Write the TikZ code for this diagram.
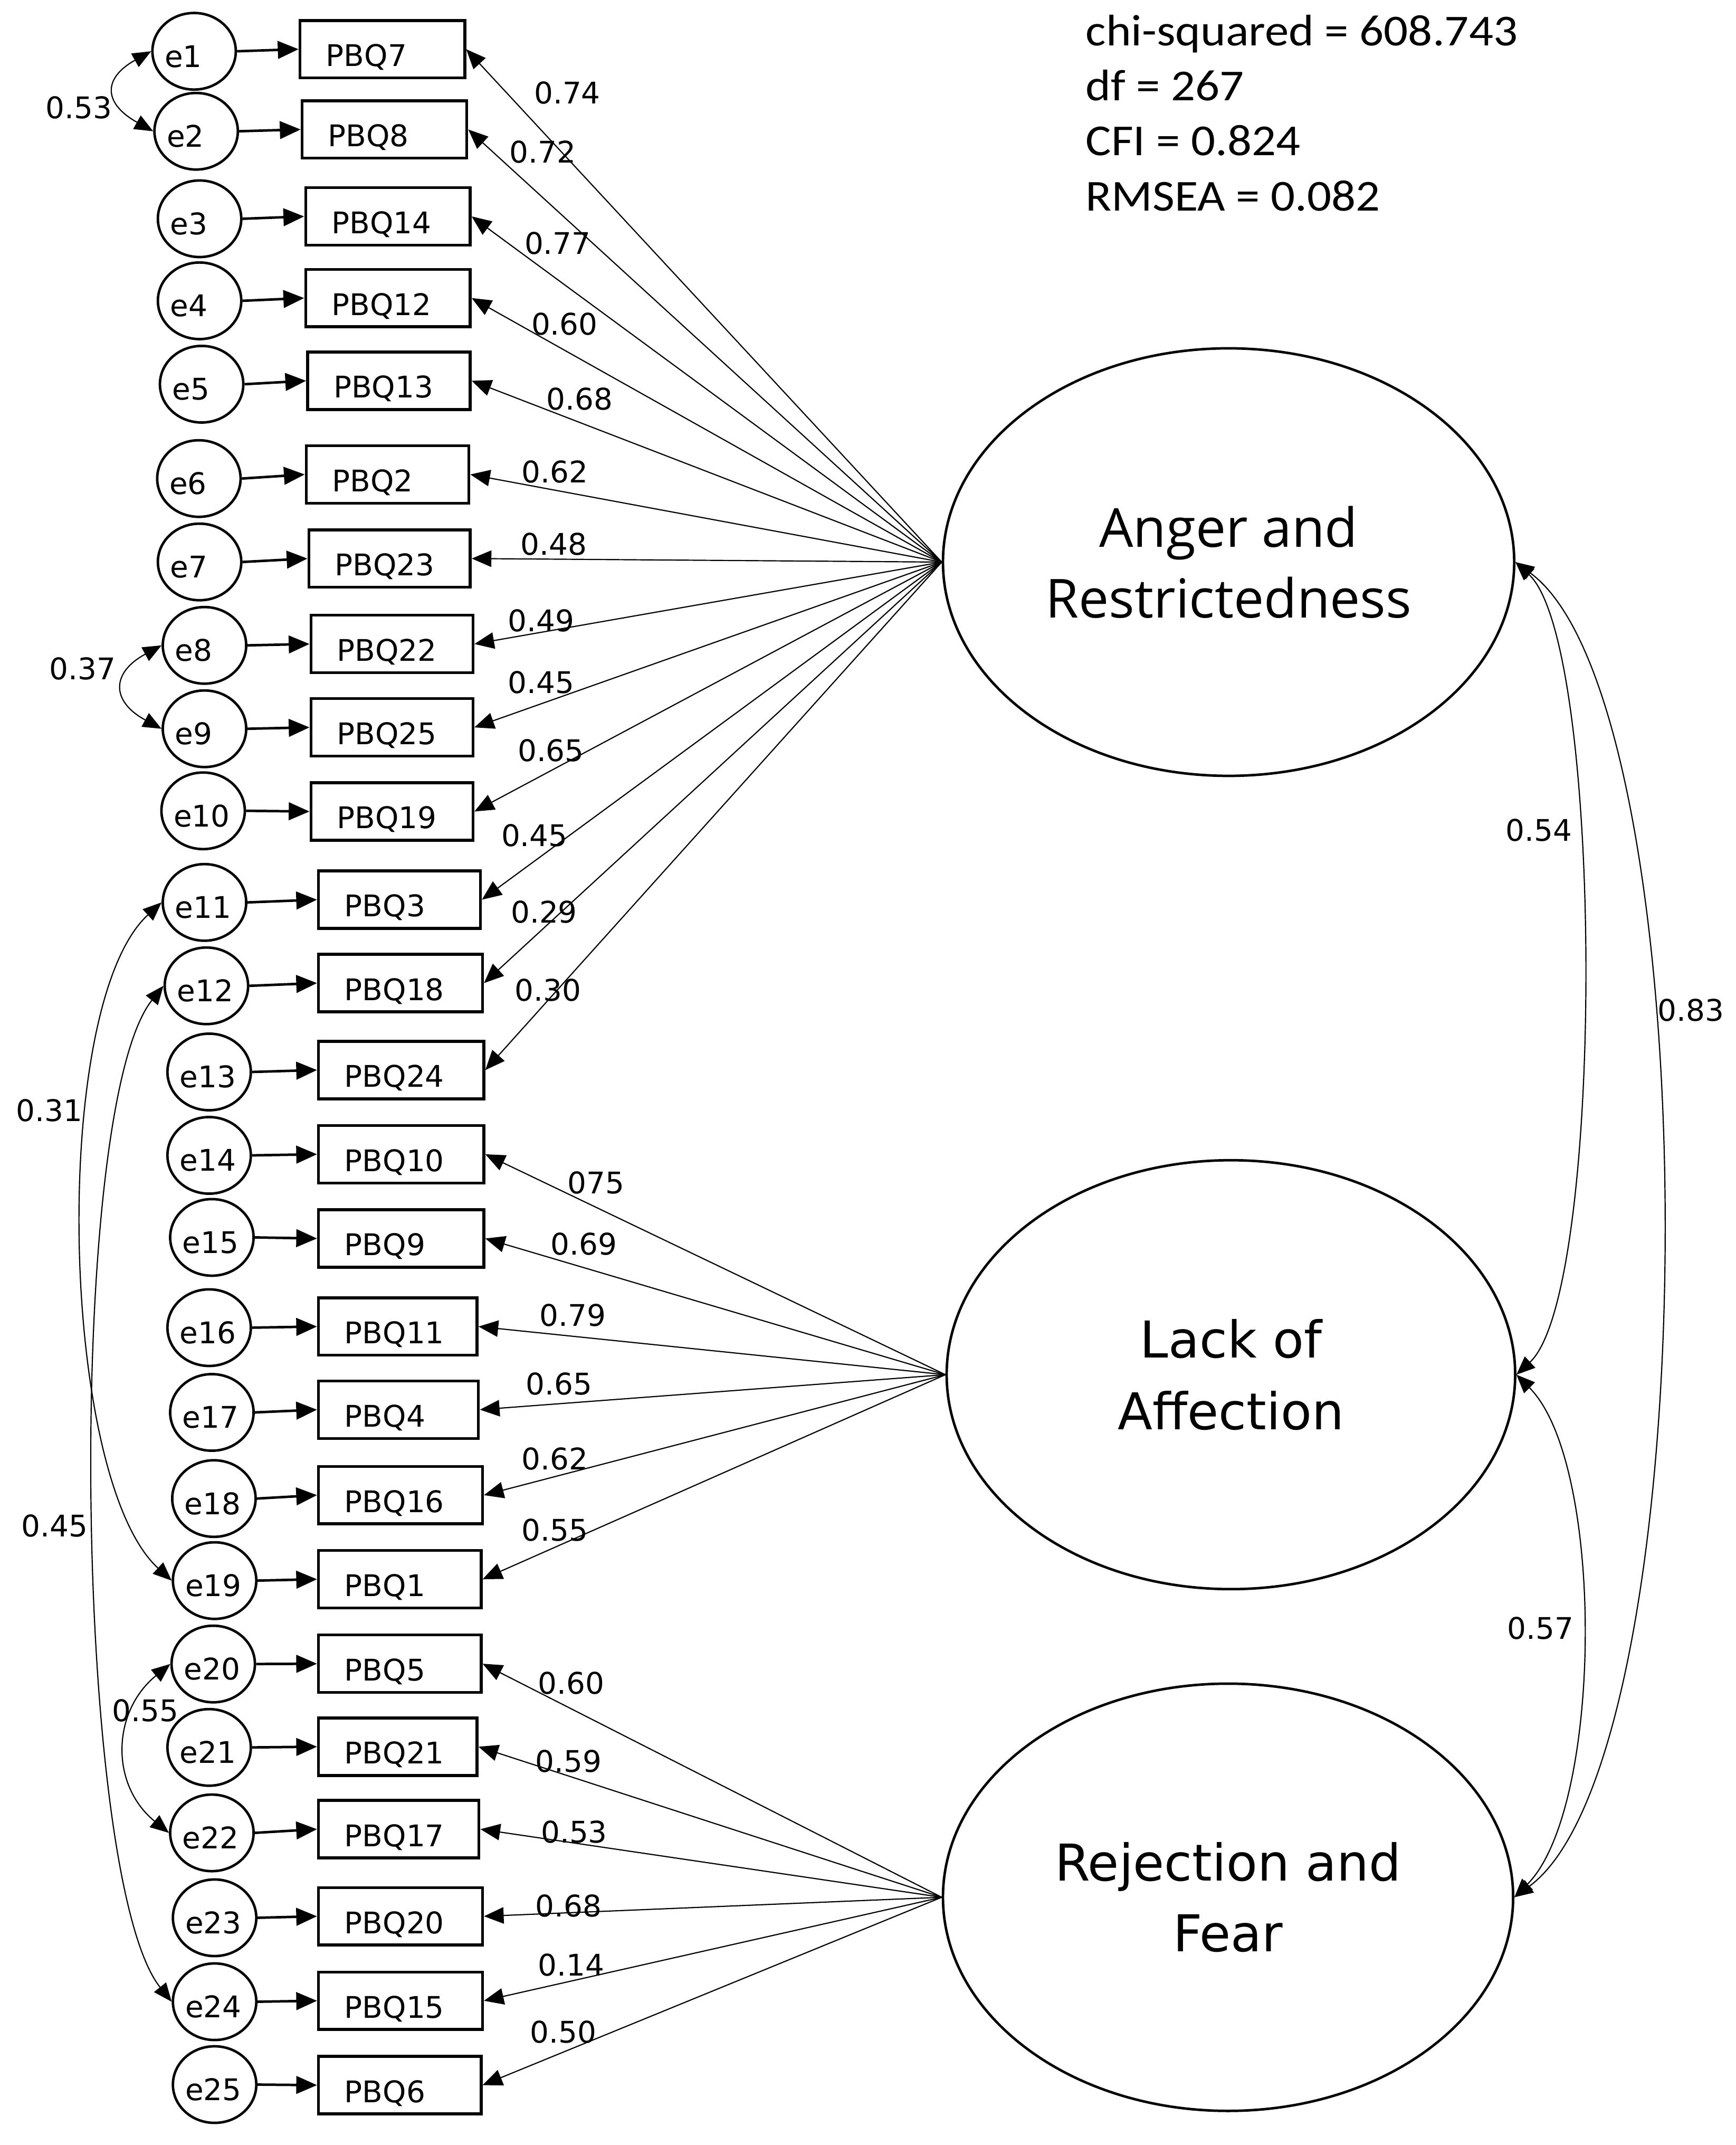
\documentclass[tikz,border=0pt]{standalone}
\usepackage{fontspec}
\setmainfont{DejaVu Sans}
\newfontfamily\statfont[FakeStretch=1.085]{Carlito}
\newfontfamily\angfont{Open Sans}
\usetikzlibrary{arrows.meta,shapes.geometric,calc}
\newcommand\lblfont{\fontsize{15.5}{18}\selectfont}
\newcommand\indnode[5]{%
  \pgfmathsetlengthmacro\myTw{(#3-#2-38)*0.025cm}%
  \pgfmathsetmacro\myCx{(#2+#3)/2}%
  \node[ind, text width=\myTw] (#1) at (\myCx,#4) {#5};}
\begin{document}
\begin{tikzpicture}[x=0.025cm,y=-0.025cm,
 evar/.style={ellipse, draw, line width=1.3pt, minimum width=1.525cm, minimum height=1.4cm, inner sep=0pt, text width=1.075cm, align=left, text height=16.4pt, text depth=0pt, font=\lblfont},
 ind/.style={rectangle, draw, line width=1.5pt, minimum height=1.05cm, inner xsep=0.475cm, inner ysep=0pt, align=left, text height=17.8pt, text depth=0pt, font=\lblfont},
 lat/.style={ellipse, draw, line width=1.3pt, inner sep=0pt, align=center},
 lab/.style={font=\lblfont, inner sep=0pt},
 stat/.style={anchor=base west, inner sep=0pt, font={\statfont\fontsize{23}{28.7}\selectfont}},
 earr/.style={-{Triangle[length=0.38cm,width=0.32cm]}, line width=1.3pt},
 load/.style={-{Triangle[length=0.36cm,width=0.3cm]}, line width=0.6pt},
 cov/.style={{Triangle[length=0.34cm,width=0.28cm]}-{Triangle[length=0.34cm,width=0.28cm]}, line width=0.6pt}]
\fill[white] (0,0) rectangle (1270,1568.8);
\useasboundingbox (0,0) rectangle (1270,1568.8);

% error terms
\node[evar] (e1) at (142,37.5) {e1};
\node[evar] (e2) at (143.5,96) {e2};
\node[evar] (e3) at (146,160) {e3};
\node[evar] (e4) at (146,220) {e4};
\node[evar] (e5) at (147.5,281) {e5};
\node[evar] (e6) at (145.5,350) {e6};
\node[evar] (e7) at (146,411) {e7};
\node[evar] (e8) at (149.6,472) {e8};
\node[evar] (e9) at (149.6,533) {e9};
\node[evar] (e10) at (148.6,593) {e10};
\node[evar] (e11) at (149.6,660) {e11};
\node[evar] (e12) at (151,721) {e12};
\node[evar] (e13) at (153,784) {e13};
\node[evar] (e14) at (153,845) {e14};
\node[evar] (e15) at (155,905) {e15};
\node[evar] (e16) at (153,971) {e16};
\node[evar] (e17) at (155,1033) {e17};
\node[evar] (e18) at (156.5,1096) {e18};
\node[evar] (e19) at (157,1156) {e19};
\node[evar] (e20) at (156,1217) {e20};
\node[evar] (e21) at (153,1278) {e21};
\node[evar] (e22) at (155,1340.5) {e22};
\node[evar] (e23) at (157,1402.6) {e23};
\node[evar] (e24) at (157,1464) {e24};
\node[evar] (e25) at (157,1524.6) {e25};

% indicators
\indnode{P7}{219.5}{340}{36}{PBQ7}
\indnode{P8}{221}{341.5}{94.7}{PBQ8}
\indnode{P14}{223.6}{344}{158.3}{PBQ14}
\indnode{P12}{223.6}{344}{218}{PBQ12}
\indnode{P13}{225}{344}{278.5}{PBQ13}
\indnode{P2}{224}{343}{347}{PBQ2}
\indnode{P23}{226}{344}{408.5}{PBQ23}
\indnode{P22}{227.5}{346}{471}{PBQ22}
\indnode{P25}{227.5}{346}{532}{PBQ25}
\indnode{P19}{227.5}{346}{593.5}{PBQ19}
\indnode{P3}{233}{351.5}{658}{PBQ3}
\indnode{P18}{233}{353}{719}{PBQ18}
\indnode{P24}{233}{354}{782.6}{PBQ24}
\indnode{P10}{233}{354}{844.2}{PBQ10}
\indnode{P9}{233}{354}{905.8}{PBQ9}
\indnode{P11}{233}{349}{970.2}{PBQ11}
\indnode{P4}{233}{350}{1031}{PBQ4}
\indnode{P16}{233}{353}{1093.5}{PBQ16}
\indnode{P1}{233}{352}{1155}{PBQ1}
\indnode{P5}{233}{352}{1216.8}{PBQ5}
\indnode{P21}{233}{349}{1277.5}{PBQ21}
\indnode{P17}{233}{350.4}{1337.8}{PBQ17}
\indnode{P20}{233}{353}{1401.5}{PBQ20}
\indnode{P15}{233}{353}{1463.3}{PBQ15}
\indnode{P6}{233}{352}{1525}{PBQ6}

% latent factors
\node[lat, minimum width=10.445cm, minimum height=7.815cm, font={\angfont\fontsize{28}{36.8}\selectfont}] (AR) at (898.8,411.1) {Anger and\\Restrictedness};
\node[lat, minimum width=10.395cm, minimum height=7.84cm, font={\fontsize{26.4}{37.5}\selectfont}] (LA) at (900.5,1005.4) {Lack of\\Affection};
\node[lat, minimum width=10.425cm, minimum height=7.81cm, font={\fontsize{26.4}{36.8}\selectfont}] (RF) at (898.4,1387.6) {Rejection and\\Fear};

% error arrows
\foreach \i/\b in {1/P7,2/P8,3/P14,4/P12,5/P13,6/P2,7/P23,8/P22,9/P25,10/P19,11/P3,12/P18,13/P24,14/P10,15/P9,16/P11,17/P4,18/P16,19/P1,20/P5,21/P21,22/P17,23/P20,24/P15,25/P6}
  \draw[earr] (e\i.east) -- (\b.west);

% loadings
\foreach \b in {P7,P8,P14,P12,P13,P2,P23,P22,P25,P19,P3,P18,P24}
  \draw[load] (AR.west) -- (\b.east);
\foreach \b in {P10,P9,P11,P4,P16,P1}
  \draw[load] (LA.west) -- (\b.east);
\foreach \b in {P5,P21,P17,P20,P15,P6}
  \draw[load] (RF.west) -- (\b.east);

% loading labels
\node[lab] (l7) at (415,68) {0.74};
\node[lab] (l8) at (397,111) {0.72};
\node[lab] (l14) at (408,178) {0.77};
\node[lab] (l12) at (413,237) {0.60};
\node[lab] (l13) at (424,292) {0.68};
\node[lab] (l2) at (406,345) {0.62};
\node[lab] (l23) at (405,398) {0.48};
\node[lab] (l22) at (396,454) {0.49};
\node[lab] (l25) at (396,499) {0.45};
\node[lab] (l19) at (403,549) {0.65};
\node[lab] (l3) at (391,611) {0.45};
\node[lab] (l18) at (398,667) {0.29};
\node[lab] (l24) at (401,724) {0.30};
\node[lab] (l10) at (436,865) {075};
\node[lab] (l9) at (427,910) {0.69};
\node[lab] (l11) at (419,962) {0.79};
\node[lab] (l4) at (409,1012) {0.65};
\node[lab] (l16) at (406,1067) {0.62};
\node[lab] (l1) at (406,1119) {0.55};
\node[lab] (l5) at (418,1231) {0.60};
\node[lab] (l21) at (416,1288) {0.59};
\node[lab] (l17) at (420,1340) {0.53};
\node[lab] (l20) at (416,1394) {0.68};
\node[lab] (l15) at (418,1437) {0.14};
\node[lab] (l6) at (412,1486) {0.50};

% error covariances
\draw[cov] (e1.west) .. controls +(-36,20) and +(-36,-20) .. (e2.west);
\draw[cov] (e8.west) .. controls +(-37,20) and +(-37,-20) .. (e9.west);
\draw[cov] (e20.west) .. controls +(-43,35) and +(-43,-35) .. (e22.west);
\draw[cov] (e11.west) .. controls +(-82,75) and +(-82,-75) .. (e19.west);
\draw[cov] (e12.west) .. controls +(-72,90) and +(-72,-90) .. (e24.west);
\node[lab] (c12) at (57.6,78.8) {0.53};
\node[lab] (c89) at (60.5,489) {0.37};
\node[lab] (c1119) at (36.2,812) {0.31};
\node[lab] (c1224) at (40,1116) {0.45};
\node[lab] (c2022) at (106.4,1251) {0.55};

% factor correlations
\draw[cov] (AR.east) .. controls +(65,60) and +(65,-60) .. (LA.east);
\draw[cov] (LA.east) .. controls +(65,65) and +(65,-65) .. (RF.east);
\draw[cov] (AR.east) .. controls +(143,105) and +(143,-105) .. (RF.east);
\node[lab] (fAL) at (1125.7,607) {0.54};
\node[lab] (fLR) at (1127,1191) {0.57};
\node[lab] (fAR) at (1237,739) {0.83};

% fit statistics
\node[stat] (fit1) at (794,33.3) {chi-squared = 608.743};
\node[stat] (fit2) at (794,73.5) {df = 267};
\node[stat] (fit3) at (794,113.5) {CFI = 0.824};
\node[stat] (fit4) at (794,154.2) {RMSEA = 0.082};
\end{tikzpicture}
\end{document}
